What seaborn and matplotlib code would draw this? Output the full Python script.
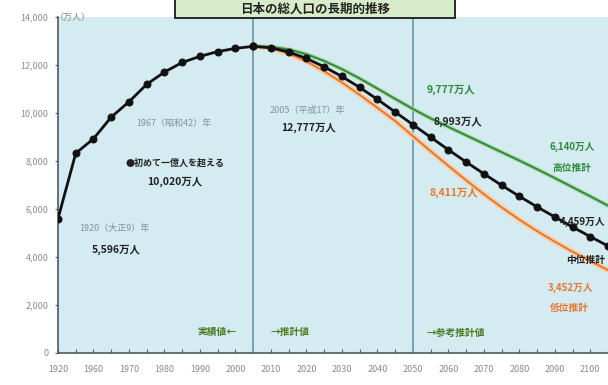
import matplotlib
matplotlib.use("Agg")
import matplotlib.pyplot as plt
import seaborn as sns
import pandas as pd
from matplotlib.patches import Rectangle
from matplotlib.ticker import MultipleLocator

# Recorded population (10,000 persons); 1920 sits at the axis break
actual_years = [1920, 1955, 1960, 1965, 1970, 1975, 1980, 1985, 1990, 1995, 2000, 2005]
actual_pop = [5596, 8320, 8928, 9828, 10467, 11194, 11706, 12105, 12361, 12557, 12693, 12777]

# Projections, five-year steps
proj_years = [2005, 2010, 2015, 2020, 2025, 2030, 2035, 2040, 2045, 2050, 2055,
              2060, 2065, 2070, 2075, 2080, 2085, 2090, 2095, 2100, 2105]
medium_pop = [12777, 12718, 12543, 12274, 11927, 11522, 11068, 10570, 10044, 9515, 8993,
              8470, 7960, 7470, 6990, 6530, 6090, 5670, 5250, 4850, 4459]
high_pop = [12777, 12760, 12650, 12450, 12170, 11830, 11440, 11020, 10590, 10170, 9777,
            9420, 9070, 8720, 8370, 8020, 7660, 7290, 6910, 6530, 6140]
low_pop = [12777, 12700, 12480, 12150, 11740, 11270, 10760, 10220, 9670, 9040, 8411,
           7800, 7200, 6620, 6070, 5560, 5080, 4640, 4220, 3830, 3452]

tick_years = [1950, 1960, 1970, 1980, 1990, 2000, 2010, 2020, 2030, 2040, 2050,
              2060, 2070, 2080, 2090, 2100]
tick_labels = ["1920", "1960", "1970", "1980", "1990", "2000", "2010", "2020", "2030",
               "2040", "2050", "2060", "2070", "2080", "2090", "2100"]
y_ticks = [0, 2000, 4000, 6000, 8000, 10000, 12000, 14000]

BREAK_POS = 1950
actual_pos = [BREAK_POS if y == 1920 else y for y in actual_years]

sns.set_theme(style="white")
plt.rcParams["font.family"] = ["Noto Sans CJK JP", "DejaVu Sans"]

fig = plt.figure(figsize=(6.08, 3.85), dpi=100)
fig.patch.set_facecolor("white")
ax = fig.add_axes([58 / 608, 1 - 353 / 385, 1 - 58 / 608, (353 - 17) / 385])
ax.set_facecolor("#d4ebf1")

df_act = pd.DataFrame({"year": actual_pos, "pop": actual_pop})
df_proj = pd.DataFrame({"year": proj_years, "medium": medium_pop,
                        "high": high_pop, "low": low_pop})

GREEN = "#2f8a3a"
ORANGE = "#e8772e"

# soft halos under the thin variant lines
sns.lineplot(data=df_proj, x="year", y="low", ax=ax, color="#f7cfa8", linewidth=4, zorder=2)
sns.lineplot(data=df_proj, x="year", y="high", ax=ax, color="#a9d6a4", linewidth=3, zorder=2)
sns.lineplot(data=df_proj, x="year", y="low", ax=ax, color=ORANGE, linewidth=1.4, zorder=3)
sns.lineplot(data=df_proj, x="year", y="high", ax=ax, color=GREEN, linewidth=1.4, zorder=3)
sns.lineplot(data=df_proj, x="year", y="medium", ax=ax, color="#111111", linewidth=2,
             marker="o", markersize=5, markeredgecolor="#111111", zorder=4)
sns.lineplot(data=df_act, x="year", y="pop", ax=ax, color="#111111", linewidth=2,
             marker="o", markersize=5, markeredgecolor="#111111", zorder=4)

# section dividers
for xv in (2005, 2050):
    ax.axvline(xv, color="#6f9ea7", linewidth=1.3, zorder=1)

ax.set_xlim(1950, 2105)
ax.set_ylim(0, 14000)
ax.set_xticks(tick_years)
ax.set_xticklabels(tick_labels)
ax.xaxis.set_minor_locator(MultipleLocator(5))
ax.set_yticks(y_ticks)
ax.set_yticklabels([f"{v:,}" for v in y_ticks])
ax.set_xlabel("")
ax.set_ylabel("")
ax.tick_params(axis="x", which="both", direction="in", length=3, width=0.8,
               color="#556066", labelsize=6.5, labelcolor="#8a8a8a", pad=9, bottom=True)
ax.tick_params(axis="y", direction="out", length=2, width=0.8, color="#556066",
               labelsize=6.5, labelcolor="#8a8a8a", pad=5, left=True)
for side in ("top", "right"):
    ax.spines[side].set_visible(False)
for side in ("left", "bottom"):
    ax.spines[side].set_color("#4a5a60")
    ax.spines[side].set_linewidth(1.2)

fig.text(55 / 608, 1 - 17 / 385, "（万人）", fontsize=6.5, color="#8a8a8a",
         ha="left", va="center")

def note(x, y, s, color="#222222", size=7, weight="bold", ha="center"):
    ax.text(x, y, s, fontsize=size, color=color, fontweight=weight, ha=ha,
            va="center", zorder=6, clip_on=False)

GRAY = "#7d95a1"
note(1982.6, 9583, "1967（昭和42）年", color=GRAY, size=6.5, weight="normal")
note(1982.9, 7917, "●初めて一億人を超える", size=6.5)
note(1982.9, 7125, "10,020万人", size=7.5)
note(1966.0, 5208, "1920（大正9）年", color=GRAY, size=6.5, weight="normal")
note(1966.3, 4292, "5,596万人", size=7.5)
note(2020.3, 10125, "2005（平成17）年", color=GRAY, size=6.5, weight="normal")
note(2020.6, 9375, "12,777万人", size=7.5)
note(2060.8, 10958, "9,777万人", color=GREEN, size=7.5)
note(2062.8, 9625, "8,993万人", size=7.5)
note(2094.8, 8583, "6,140万人", color=GREEN, size=7)
note(2094.8, 7708, "高位推計", color=GREEN, size=7)
note(2061.6, 6667, "8,411万人", color=ORANGE, size=7.5)
note(2104.3, 5458, "4,459万人", size=7, ha="right")
note(2104.3, 3875, "中位推計", size=7, ha="right")
note(2094.5, 2708, "3,452万人", color=ORANGE, size=7)
note(2094.0, 1875, "低位推計", color=ORANGE, size=7)

OLIVE = "#4a7a1e"
note(1994.7, 875, "実績値←", color=OLIVE, size=7)
note(2015.5, 875, "→推計値", color=OLIVE, size=7)
note(2062.2, 833, "→参考推計値", color=OLIVE, size=7)

# heading box along the top edge
fig.patches.append(Rectangle((175 / 608, 1 - 18 / 385), 280 / 608, 20 / 385,
                             transform=fig.transFigure, facecolor="#d8ecca",
                             edgecolor="#1a1a1a", linewidth=1.3, zorder=10))
fig.text(315 / 608, 1 - 9 / 385, "日本の総人口の長期的推移", fontsize=9,
         fontweight="bold", color="#222222", ha="center", va="center", zorder=11)

fig.savefig("out.png", dpi=100)
